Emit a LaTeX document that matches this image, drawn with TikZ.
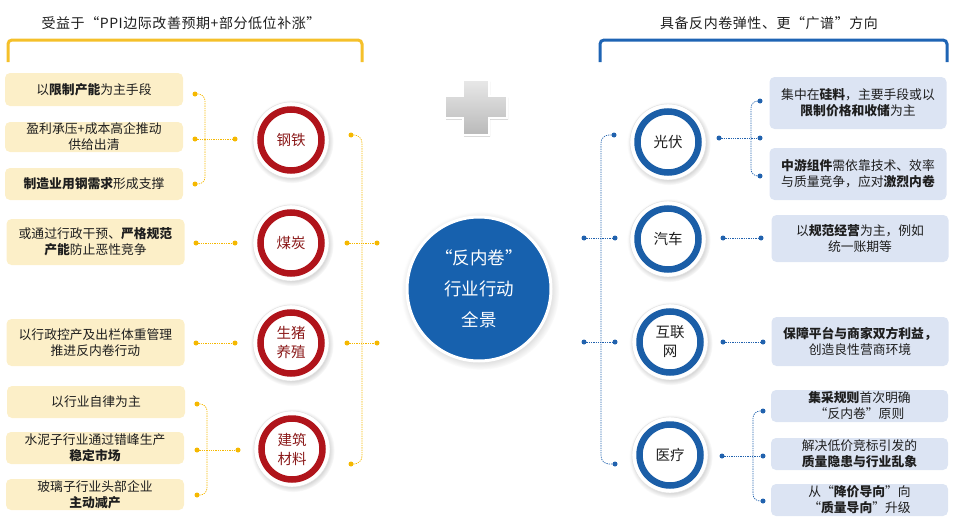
\documentclass[tikz,border=0pt]{standalone}
\usepackage{fontspec}
\setmainfont{Noto Sans CJK SC}
\newfontfamily\hdrfont[LetterSpace=4]{Noto Sans CJK SC}
\usetikzlibrary{shadows}
\definecolor{lfill}{HTML}{FCEFC8}
\definecolor{rfill}{HTML}{DCE4F3}
\definecolor{ydotc}{HTML}{F5B800}
\definecolor{ybrc}{HTML}{F5C02A}
\definecolor{bbrc}{HTML}{1E64B4}
\definecolor{bdotc}{HTML}{2162AE}
\definecolor{ringred}{HTML}{B0141B}
\definecolor{ringblue}{HTML}{1B5EA7}
\definecolor{txtred}{HTML}{8B1A1A}
\definecolor{txt}{HTML}{1E1E1E}
\definecolor{coreblue}{HTML}{1761AE}
\begin{document}
\begin{tikzpicture}[x=1pt,y=-1pt,
  lbox/.style={rectangle, rounded corners=5pt, fill=lfill, minimum width=178pt, inner sep=0pt, align=center, text=txt, font=\fontsize{12.8}{16}\selectfont},
  rbox/.style={rectangle, rounded corners=5pt, fill=rfill, minimum width=177pt, inner sep=0pt, align=center, text=txt, font=\fontsize{12.8}{16}\selectfont},
  ydot/.style={circle, fill=ydotc, inner sep=0pt, minimum size=5pt},
  bdot/.style={circle, fill=bdotc, inner sep=0pt, minimum size=5pt},
  yline/.style={draw=ydotc, line width=0.7pt, dash pattern=on 1.3pt off 1pt},
  bline/.style={draw=bdotc, line width=0.7pt, dash pattern=on 1.3pt off 1pt},
  rim/.style={circle, fill=white, draw=gray!25, line width=0.4pt, minimum size=76pt, inner sep=0pt, circular drop shadow={shadow xshift=0.8pt, shadow yshift=-1.2pt, opacity=0.35}},
  redc/.style={circle, draw=ringred, line width=6.5pt, fill=white, minimum size=61pt, inner sep=0pt, align=center, text=txtred, font=\fontsize{14.5}{19}\selectfont},
  bluec/.style={circle, draw=ringblue, line width=6.5pt, fill=white, minimum size=61pt, inner sep=0pt, align=center, text=txt, font=\fontsize{14.5}{19}\selectfont},
  hdr/.style={text=txt, font=\hdrfont\fontsize{14}{16}\selectfont, inner sep=0pt}
]
\useasboundingbox (0,0) rectangle (964,530);

% headers
\node[hdr] (hl) at (181,23) {受益于“PPI边际改善预期+部分低位补涨”};
\node[hdr] (hr) at (769,23) {具备反内卷弹性、更“广谱”方向};
\draw[ybrc, line width=3pt, rounded corners=4pt] (8,62) -- (8,40) -- (362,40) -- (362,62);
\draw[bbrc, line width=3pt, rounded corners=4pt] (600,62) -- (600,40) -- (947,40) -- (947,62);

% plus sign
\path[draw=white, line width=1.2pt, top color=gray!18, bottom color=gray!55, drop shadow={shadow xshift=1pt, shadow yshift=-1.5pt, opacity=0.45}]
  (445,96) -- (463,96) -- (463,80) -- (489,80) -- (489,96) -- (507,96) -- (507,118) -- (489,118) -- (489,135) -- (463,135) -- (463,118) -- (445,118) -- cycle;

% center circle
\node[circle, fill=coreblue, draw=white, line width=3pt, minimum size=144pt, inner sep=0pt,
  circular drop shadow={shadow xshift=1pt, shadow yshift=-1.5pt, opacity=0.35},
  text=white, align=center, font=\fontsize{17.5}{31}\selectfont] (core) at (479,289) {“反内卷”\\行业行动\\全景};

% ---------- left boxes ----------
\node[lbox, minimum height=33pt] (L1) at (94,89.5) {以\textbf{限制产能}为主手段};
\node[lbox, minimum height=30pt] (L2) at (94,137) {盈利承压+成本高企推动\\供给出清};
\node[lbox, minimum height=32pt] (L3) at (94,184) {\textbf{制造业用钢需求}形成支撑};
\node[lbox, minimum height=46pt] (L4) at (95.5,242) {或通过行政干预、\textbf{严格规范}\\\textbf{产能}防止恶性竞争};
\node[lbox, minimum height=47pt] (L5) at (95.5,342.5) {以行政控产及出栏体重管理\\推进反内卷行动};
\node[lbox, minimum height=32pt] (L6) at (96,402) {以行业自律为主};
\node[lbox, minimum height=32pt] (L7) at (95,448) {水泥子行业通过错峰生产\\\textbf{稳定市场}};
\node[lbox, minimum height=31pt] (L8) at (95,494.5) {玻璃子行业头部企业\\\textbf{主动减产}};

% ---------- left circles ----------
\node[rim] (c1) at (291,140) {};
\node[redc] (c1t) at (c1) {钢铁};
\node[rim] (c2) at (291,243) {};
\node[redc] (c2t) at (c2) {煤炭};
\node[rim] (c3) at (291,343) {};
\node[redc] (c3t) at (c3) {生猪\\养殖};
\node[rim] (c4) at (292,449) {};
\node[redc] (c4t) at (c4) {建筑\\材料};

% ---------- left dots & connectors ----------
\coordinate (xa) at (205,0);
\coordinate (xb) at (207,0);
\coordinate (xc) at (362,0);
\node[ydot] (a1) at (195,94) {};
\node[ydot] (a2) at (195,139) {};
\node[ydot] (a3) at (195,184) {};
\node[ydot] (a4) at (235,139) {};
\draw[yline, rounded corners=7pt] (a1.center) -- (a1.center -| xa) |- (a3.center);
\draw[yline] (a2.center) -- (a4.center);

\node[ydot] (b1) at (196,243) {};
\node[ydot] (b2) at (235,243) {};
\draw[yline] (b1.center) -- (b2.center);
\node[ydot] (e1) at (196,343) {};
\node[ydot] (e2) at (235,343) {};
\draw[yline] (e1.center) -- (e2.center);

\node[ydot] (f1) at (197,404) {};
\node[ydot] (f2) at (197,450) {};
\node[ydot] (f3) at (197,495) {};
\node[ydot] (f4) at (238,450) {};
\draw[yline, rounded corners=7pt] (f1.center) -- (f1.center -| xb) |- (f3.center);
\draw[yline] (f2.center) -- (f4.center);

\node[ydot] (g1) at (351,135) {};
\node[ydot] (g2) at (351,464) {};
\draw[yline, rounded corners=8pt] (g1.center) -- (g1.center -| xc) |- (g2.center);
\node[ydot] (h1) at (347,243) {};
\node[ydot] (h2) at (377,243) {};
\draw[yline] (h1.center) -- (h2.center);
\node[ydot] (k1) at (347,343) {};
\node[ydot] (k2) at (377,343) {};
\draw[yline] (k1.center) -- (k2.center);

% ---------- right circles ----------
\node[rim] (d1) at (668,142) {};
\node[bluec] (d1t) at (d1) {光伏};
\node[rim] (d2) at (668,239) {};
\node[bluec] (d2t) at (d2) {汽车};
\node[rim] (d3) at (670,342) {};
\node[bluec] (d3t) at (d3) {互联\\网};
\node[rim] (d4) at (670,455) {};
\node[bluec] (d4t) at (d4) {医疗};

% ---------- right boxes ----------
\node[rbox, minimum height=52pt] (R1) at (858,103) {集中在\textbf{硅料}，主要手段或以\\\textbf{限制价格和收储}为主};
\node[rbox, minimum height=52pt] (R2) at (858,174) {\textbf{中游组件}需依靠技术、效率\\与质量竞争，应对\textbf{激烈内卷}};
\node[rbox, minimum height=47pt] (R3) at (860,238.5) {以\textbf{规范经营}为主，例如\\统一账期等};
\node[rbox, minimum height=49pt] (R4) at (860,341.5) {\textbf{保障平台与商家双方利益，}\\创造良性营商环境};
\node[rbox, minimum height=32pt] (R5) at (859.5,406) {\textbf{集采规则}首次明确\\“反内卷”原则};
\node[rbox, minimum height=32pt] (R6) at (859.5,454) {解决低价竞标引发的\\\textbf{质量隐患与行业乱象}};
\node[rbox, minimum height=32pt] (R7) at (859.5,500) {从“\textbf{降价导向}”向\\“\textbf{质量导向}”升级};

% ---------- right dots & connectors ----------
\coordinate (xd) at (601,0);
\coordinate (xe) at (751,0);
\coordinate (xf) at (753,0);
\node[bdot] (m1) at (614,135) {};
\node[bdot] (m2) at (615,464) {};
\draw[bline, rounded corners=8pt] (m1.center) -- (m1.center -| xd) |- (m2.center);
\node[bdot] (n1) at (584,238) {};
\node[bdot] (n2) at (615,238) {};
\draw[bline] (n1.center) -- (n2.center);
\node[bdot] (p1) at (584,342) {};
\node[bdot] (p2) at (615,342) {};
\draw[bline] (p1.center) -- (p2.center);

\node[bdot] (r1) at (719,138) {};
\node[bdot] (r2) at (760,138) {};
\node[bdot] (r3) at (760,101) {};
\node[bdot] (r4) at (760,176) {};
\draw[bline] (r1.center) -- (r2.center);
\draw[bline, rounded corners=7pt] (r3.center) -- (r3.center -| xe) |- (r4.center);

\node[bdot] (s1) at (723,238) {};
\node[bdot] (s2) at (761,238) {};
\draw[bline] (s1.center) -- (s2.center);
\node[bdot] (t1) at (723,342) {};
\node[bdot] (t2) at (763,342) {};
\draw[bline] (t1.center) -- (t2.center);

\node[bdot] (u1) at (722,456) {};
\node[bdot] (u2) at (763,456) {};
\node[bdot] (u3) at (763,411) {};
\node[bdot] (u4) at (763,501) {};
\draw[bline] (u1.center) -- (u2.center);
\draw[bline, rounded corners=7pt] (u3.center) -- (u3.center -| xf) |- (u4.center);
\end{tikzpicture}
\end{document}
